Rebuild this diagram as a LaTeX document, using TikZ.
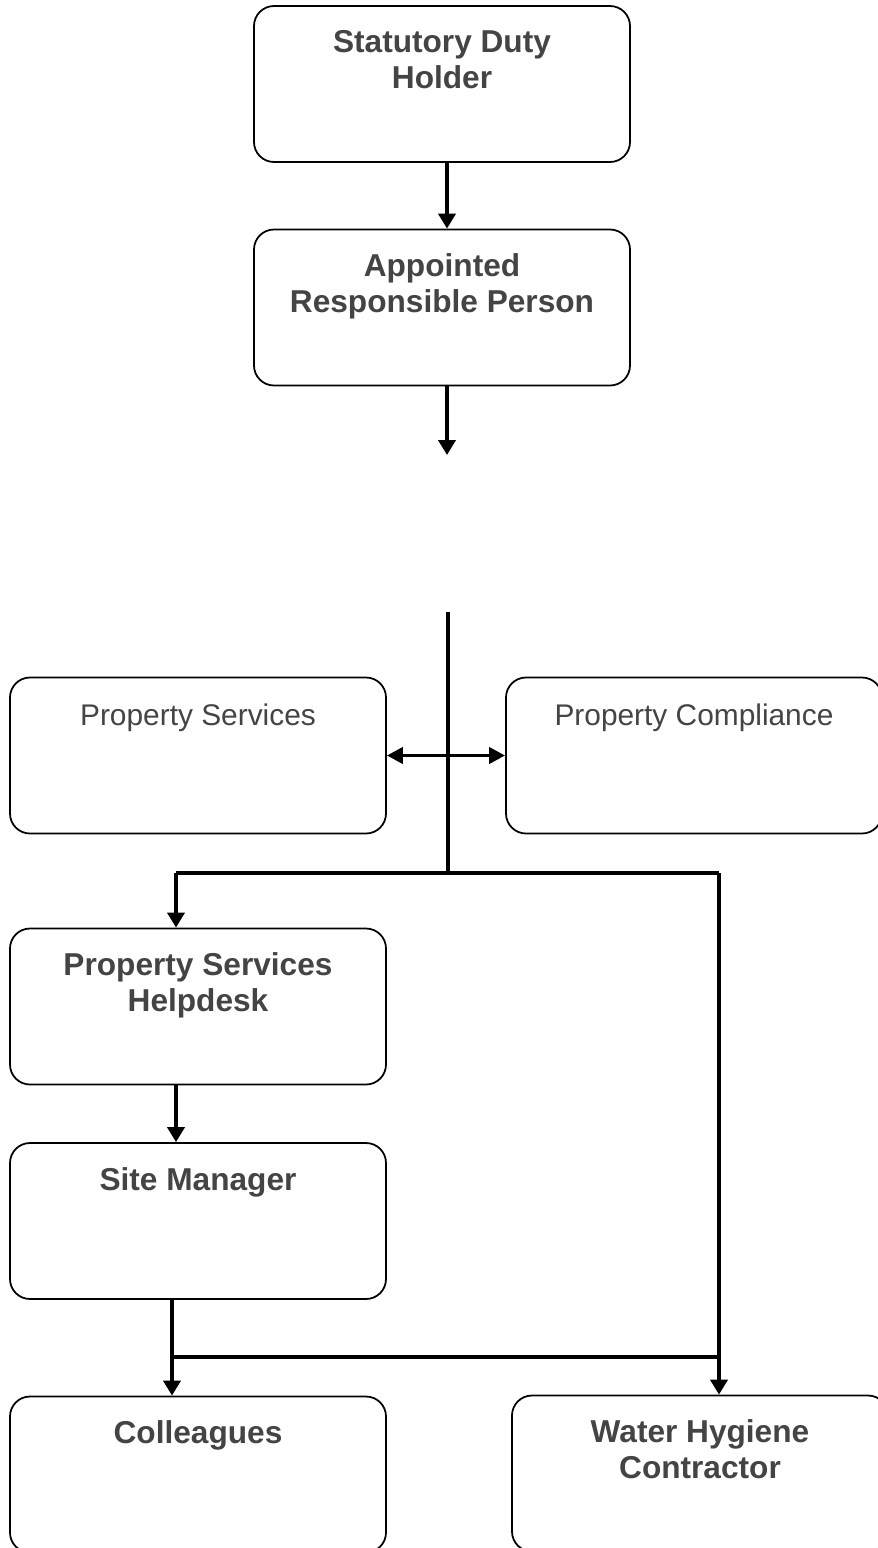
\documentclass[tikz,border=0pt]{standalone}
\usepackage{fontspec}
\setmainfont{Liberation Sans}
\usetikzlibrary{arrows.meta}
\definecolor{labelgrey}{RGB}{68,68,68}

\begin{document}
\begin{tikzpicture}

\useasboundingbox (0,0) rectangle (17.54,-30.96);

%%% Styles

\tikzstyle{box}=[draw, rounded corners=0.4cm, line width=1pt, minimum width=7.52cm, minimum height=3.12cm, inner sep=0pt]
\tikzstyle{boxtext}=[anchor=north, inner sep=0pt, align=center, text=labelgrey, yshift=-0.5cm, font=\fontsize{18}{20.5}\selectfont\bfseries]
\tikzstyle{plaintext}=[boxtext, yshift=-0.03cm, font=\fontsize{17}{20}\selectfont]
\tikzstyle{link}=[line width=2.2pt]
\tikzstyle{arr}=[link, -{Triangle[width=0.34cm,length=0.3cm]}]
\tikzstyle{twoway}=[link, {Triangle[width=0.32cm,length=0.32cm]}-{Triangle[width=0.32cm,length=0.32cm]}]


%%% Top boxes

\node (sdh) [box, label={[boxtext]north:{Statutory Duty\\Holder}}] at (8.84,-1.68) {};

\node (arp) [box, label={[boxtext]north:{Appointed\\Responsible Person}}] at (8.84,-6.15) {};


%%% Middle boxes

\node (ps) [box, label={[plaintext]north:{Property Services}}] at (3.96,-15.11) {};

\node (pc) [box, label={[plaintext]north:{Property Compliance}}] at (13.88,-15.11) {};


%%% Left column

\node (psh) [box, label={[boxtext]north:{Property Services\\Helpdesk}}] at (3.96,-20.13) {};

\node (sm) [box, label={[boxtext]north:{Site Manager}}] at (3.96,-24.42) {};

\node (col) [box, label={[boxtext]north:{Colleagues}}] at (3.96,-29.49) {};


% Right bottom box

\node (whc) [box, label={[boxtext]north:{Water Hygiene\\Contractor}}] at (14.00,-29.47) {};


%%% Junction points

\coordinate (arpend) at (8.94,-9.10);
\coordinate (spinetop) at (8.96,-12.24);
\coordinate (jM) at (8.96,-17.46);
\coordinate (jL) at (3.52,-17.46);
\coordinate (jR) at (14.38,-17.46);
\coordinate (kL) at (3.44,-27.14);


%%% Connectors

\draw [arr] (arpend |- sdh.south) -- (arpend |- arp.north);

\draw [arr] (arpend |- arp.south) -- (arpend);

% Spine

\draw [link] (spinetop) -- (jM);

\draw [twoway] (ps) -- (pc);

% Top bus

\draw [link] (jL) -- (jR);

\draw [arr] (jL) -- (jL |- psh.north);

\draw [arr] (jL |- psh.south) -- (jL |- sm.north);

\draw [arr] (jR) -- (jR |- whc.north);

% Bottom bus

\draw [arr] (kL |- sm.south) -- (kL |- col.north);

\draw [link] (kL) -- (kL -| jR);

\end{tikzpicture}
\end{document}
